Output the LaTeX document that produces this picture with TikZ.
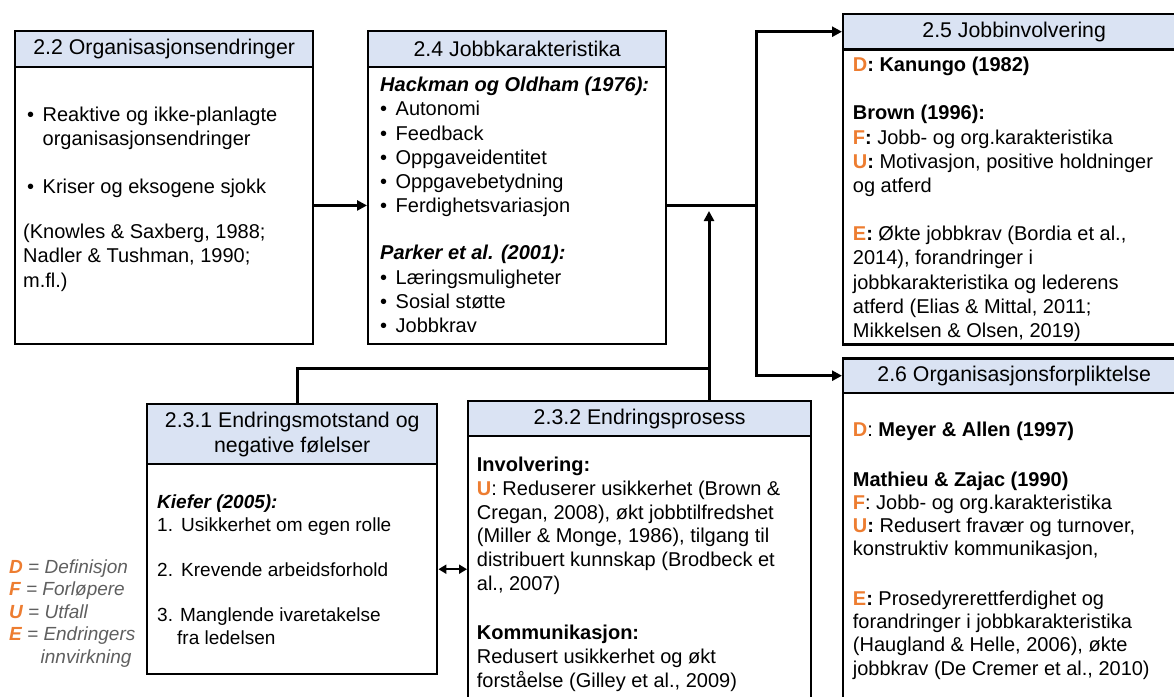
\documentclass[tikz,border=0pt]{standalone}
\usepackage{fontspec}
\setmainfont{Liberation Sans}
\usetikzlibrary{arrows.meta,calc}

\definecolor{hdrfill}{RGB}{218,227,243}
\definecolor{accent}{RGB}{237,125,49}
\definecolor{legendgray}{RGB}{95,95,95}

% orange key letter (D, F, U, E)
\newcommand{\keyletter}[1]{\textcolor{accent}{\textbf{#1}}}
% bullet with fixed hanging indent
\newcommand{\bul}{\makebox[15.5pt][l]{•}}

\tikzset{
  boxline/.style={draw=black, line width=2.4pt},
  header/.style={boxline, fill=hdrfill, anchor=north west, inner sep=0pt,
                 align=center, font=\fontsize{21.3}{25}\selectfont},
  body/.style={boxline, anchor=north west, inner sep=0pt},
  bodytext/.style={anchor=north west, inner sep=0pt, align=left,
                   font=\fontsize{20}{24.2}\selectfont},
  link/.style={line width=3pt, -{Triangle[length=10pt,width=10pt]}},
  plainlink/.style={line width=3pt},
  twoway/.style={line width=2.4pt,
                 {Triangle[length=8pt,width=9pt]}-{Triangle[length=8pt,width=9pt]}},
}

\begin{document}
\begin{tikzpicture}[x=1pt, y=-1pt]
\useasboundingbox (0,0) rectangle (1174,696);
\clip (0,0) rectangle (1174,696);

% ---- 2.2 Organisasjonsendringer
\node[header, minimum width=298pt, minimum height=35.5pt] (h22) at (14,30) {2.2 Organisasjonsendringer};
\node[body, minimum width=298pt, minimum height=277.5pt] (b22) at (14,65.5) {};
\node[bodytext] (t22) at (23,104) {\strut\hspace*{4pt}\bul Reaktive og ikke-planlagte\\
\hspace*{19.5pt}organisasjonsendringer\\[24pt]
\hspace*{4pt}\bul Kriser og eksogene sjokk\\[21pt]
(Knowles \& Saxberg, 1988;\\
Nadler \& Tushman, 1990;\\
m.fl.)};

% ---- 2.4 Jobbkarakteristika
\node[header, minimum width=298pt, minimum height=35.5pt] (h24) at (367,30) {2.4 Jobbkarakteristika};
\node[body, minimum width=298pt, minimum height=277.5pt] (b24) at (367,65.5) {};
\node[bodytext] (t24) at (380,74.5) {\strut\textbf{\textit{Hackman og Oldham (1976):}}\\
\bul Autonomi\\
\bul Feedback\\
\bul Oppgaveidentitet\\
\bul Oppgavebetydning\\
\bul Ferdighetsvariasjon\\[23pt]
\textbf{\textit{Parker et al. (2001):}}\\
\bul Læringsmuligheter\\
\bul Sosial støtte\\
\bul Jobbkrav};

% ---- 2.5 Jobbinvolvering
\node[header, minimum width=342pt, minimum height=35.6pt] (h25) at (842,12.7) {2.5 Jobbinvolvering};
\node[body, minimum width=342pt, minimum height=295pt] (b25) at (842,48.3) {};
\node[bodytext] (t25) at (852.7,54.5) {\strut\keyletter{D}\textbf{: Kanungo (1982)}\\[24pt]
\textbf{Brown (1996):}\\
\keyletter{F}\textbf{:} Jobb- og org.karakteristika\\
\keyletter{U}\textbf{:} Motivasjon, positive holdninger\\
og atferd\\[24pt]
\keyletter{E}\textbf{:} Økte jobbkrav (Bordia et al.,\\
2014), forandringer i\\
jobbkarakteristika og lederens\\
atferd (Elias \& Mittal, 2011;\\
Mikkelsen \& Olsen, 2019)};

% ---- 2.6 Organisasjonsforpliktelse
\node[header, minimum width=342pt, minimum height=34.4pt] (h26) at (842,357.3) {2.6 Organisasjonsforpliktelse};
\node[body, minimum width=342pt, minimum height=330pt] (b26) at (842,391.7) {};
\node[bodytext, font=\fontsize{20}{23.3}\selectfont] (t26) at (852.7,420.2) {\strut\keyletter{D}: \textbf{Meyer \& Allen (1997)}\\[26pt]
\textbf{Mathieu \& Zajac (1990)}\\
\keyletter{F}: Jobb- og org.karakteristika\\
\keyletter{U}\textbf{:} Redusert fravær og turnover,\\
konstruktiv kommunikasjon,\\[26pt]
\keyletter{E}\textbf{:} Prosedyrerettferdighet og\\
forandringer i jobbkarakteristika\\
(Haugland \& Helle, 2006), økte\\
jobbkrav (De Cremer et al., 2010)};

% ---- 2.3.1 Endringsmotstand og negative følelser
\node[header, minimum width=290pt, minimum height=60.3pt] (h231) at (146,402.7) {2.3.1 Endringsmotstand og\\negative følelser};
\node[body, minimum width=290pt, minimum height=210pt] (b231) at (146,463) {};
\node[bodytext, font=\fontsize{19}{22.6}\selectfont] (t231) at (157,492.4) {\strut\textbf{\textit{Kiefer (2005):}}\\
\makebox[24pt][l]{1.}Usikkerhet om egen rolle\\[22.6pt]
\makebox[24pt][l]{2.}Krevende arbeidsforhold\\[22.6pt]
3. Manglende ivaretakelse\\
\hspace*{20pt}fra ledelsen};

% ---- 2.3.2 Endringsprosess
\node[header, minimum width=343pt, minimum height=35pt] (h232) at (467,400) {2.3.2 Endringsprosess};
\node[body, minimum width=343pt, minimum height=300pt] (b232) at (467,435) {};
\node[bodytext, font=\fontsize{20}{23.7}\selectfont] (t232) at (476.7,454.9) {\strut\textbf{Involvering:}\\
\keyletter{U}: Reduserer usikkerhet (Brown \&\\
Cregan, 2008), økt jobbtilfredshet\\
(Miller \& Monge, 1986), tilgang til\\
distribuert kunnskap (Brodbeck et\\
al., 2007)\\[26pt]
\textbf{Kommunikasjon:}\\
Redusert usikkerhet og økt\\
forståelse (Gilley et al., 2009)};

% ---- key to the letters
\node[bodytext, text=legendgray, font=\fontsize{19}{22.5}\selectfont\itshape] (key) at (9,557.4) {\strut\keyletter{D} = Definisjon\\
\keyletter{F} = Forløpere\\
\keyletter{U} = Utfall\\
\keyletter{E} = Endringers\\
\hspace*{31.5pt}innvirkning};

% ---- connectors
\draw[link] (b22.east) -- (b24.west);

\coordinate (split) at ($(b24.east)+(89,0)$);
\draw[plainlink] (b24.east) -- (split);
\draw[link] (split) |- (h25.west);
\draw[link] (split) |- (h26.west);

\coordinate (meet) at (709,368);
\coordinate (tip) at (709,211);
\draw[plainlink] ($(h231.north)+(5,0)$) |- (meet);
\draw[link] (h232.north -| meet) -- (tip);

\draw[twoway] (b231.east) -- (b231.east -| b232.west);
\end{tikzpicture}
\end{document}
